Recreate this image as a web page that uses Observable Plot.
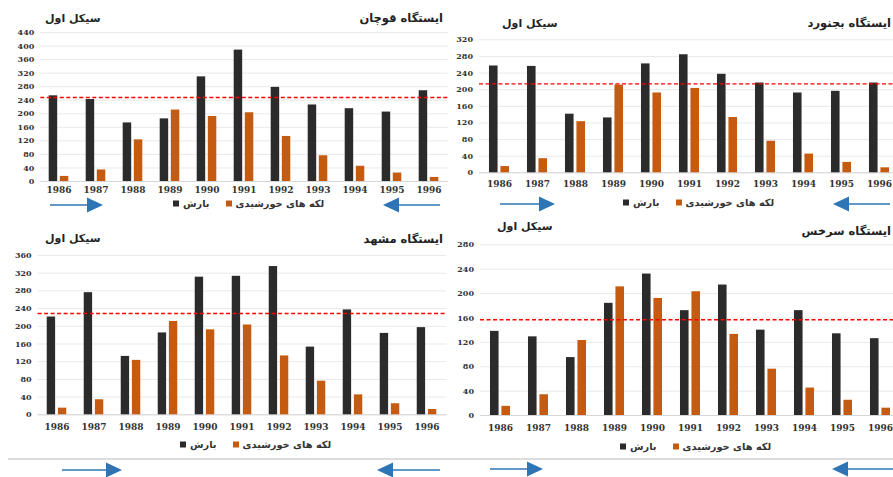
<!DOCTYPE html>
<html><head><meta charset="utf-8">
<script src="https://cdn.jsdelivr.net/npm/d3@7"></script>
<script src="https://cdn.jsdelivr.net/npm/@observablehq/plot@0.6"></script>
<style>
body{margin:0;background:#fff;}
#root{position:relative;width:893px;height:477px;overflow:hidden;background:#fff;}
.pnl{position:absolute;}
.pnl svg{max-width:none !important;}
.t{position:absolute;font-family:"DejaVu Sans",sans-serif;font-weight:bold;font-size:11.5px;color:#222;white-space:nowrap;direction:rtl;transform:translateY(-50%);}
.t.c{font-size:11px;}
.lg{position:absolute;display:flex;align-items:center;font-family:"DejaVu Sans",sans-serif;font-weight:bold;font-size:9.8px;color:#333;white-space:nowrap;transform:translateY(-50%);}
.sq{display:inline-block;width:6px;height:6px;margin-right:4px;}
.sep{position:absolute;left:8px;right:0;top:458px;height:2px;background:#dcdcdc;}
</style></head>
<body><div id="root"></div>
<script>
// ---- data ----
const years = ["1986","1987","1988","1989","1990","1991","1992","1993","1994","1995","1996"];
const sunspots = [15, 34, 123, 211, 192, 203, 133, 76, 45, 25, 12];
const quchan  = [253, 242, 173, 185, 309, 388, 278, 226, 215, 205, 268];
const bojnurd = [257, 256, 141, 132, 262, 284, 237, 216, 192, 196, 216];
const mashhad = [221, 276, 132, 185, 311, 313, 335, 153, 237, 184, 197];
const sarakhs = [138, 129, 95, 184, 232, 172, 214, 140, 172, 134, 126];
const stationTitles = ["ایستگاه قوچان", "ایستگاه بجنورد", "ایستگاه مشهد", "ایستگاه سرخس"];
const stationMeans = [248, 214, 229, 157];
const yMaxes = [440, 320, 360, 280];
const yStep = 40;
const cycleLabel = "سیکل اول";
const seriesNames = ["بارش", "لکه های خورشیدی"];

const darkColor = "#2b2b2b", orangeColor = "#c55a11", arrowColor = "#2e75b6";
const root = document.getElementById("root");

const layouts = [
  {left:0,   top:0,   width:450, height:200, ml:40.3, mr:2.3, mt:32,   mb:19,   xpad:5,
   title:{right:443, y:18}, cycle:{left:45, y:18}, legend:{left:173, y:203},
   arrows:[{x1:50,x2:103,y:205,dir:1},{x1:383,x2:440,y:205,dir:-1}]},
  {left:450, top:0,   width:450, height:195, ml:29,   mr:0.8, mt:39.3, mb:22.7, xpad:7.5,
   title:{right:891, y:23}, cycle:{left:502, y:23}, legend:{left:623, y:202},
   arrows:[{x1:500,x2:555,y:204,dir:1},{x1:833,x2:890,y:204,dir:-1}]},
  {left:0,   top:225, width:450, height:210, ml:37.6, mr:3.6, mt:30,   mb:20.7, xpad:8.5,
   title:{right:443, y:239}, cycle:{left:45, y:238}, legend:{left:180, y:444},
   arrows:[{x1:62,x2:122,y:470,dir:1},{x1:377,x2:440,y:470,dir:-1}]},
  {left:450, top:225, width:450, height:212, ml:30,   mr:-0.2, mt:19.3, mb:22,   xpad:9,
   title:{right:891, y:231}, cycle:{left:497, y:226}, legend:{left:620, y:446},
   arrows:[{x1:490,x2:543,y:469,dir:1},{x1:832,x2:893,y:469,dir:-1}]}
];
const precipSeries = [quchan, bojnurd, mashhad, sarakhs];

layouts.forEach((L, i) => {
  const rows = years.map((y, j) => ({year: y, precip: precipSeries[i][j], sun: sunspots[j]}));
  const ticks = d3.range(0, yMaxes[i] + 1, yStep);
  const bw = (L.width - L.ml - L.mr) / years.length;
  const barW = 0.23 * bw, gap = 0.07 * bw;
  const chart = Plot.plot({
    width: L.width, height: L.height,
    marginLeft: L.ml, marginRight: L.mr, marginTop: L.mt, marginBottom: L.mb,
    style: {background: "transparent", overflow: "visible", maxWidth: "none"},
    x: {type: "band", domain: years, padding: 0, axis: null},
    y: {domain: [0, yMaxes[i]], axis: null},
    marks: [
      Plot.gridY(ticks, {stroke: "#e9e9e9", strokeOpacity: 1}),
      Plot.axisY(ticks, {tickSize: 0, tickPadding: 6.5, fontSize: 8, fontWeight: "bold",
        fontFamily: "DejaVu Serif", fill: "#333", label: null}),
      Plot.ruleY([0], {stroke: "#d6d6d6"}),
      Plot.barY(rows, {x: "year", y: "precip", fill: darkColor,
        insetLeft: bw / 2 - gap / 2 - barW, insetRight: bw / 2 + gap / 2}),
      Plot.barY(rows, {x: "year", y: "sun", fill: orangeColor,
        insetLeft: bw / 2 + gap / 2, insetRight: bw / 2 - gap / 2 - barW}),
      Plot.ruleY([stationMeans[i]], {stroke: "#ff0000", strokeWidth: 1.4, strokeDasharray: "4,2.5"}),
      Plot.axisX({tickSize: 0, tickPadding: L.xpad, fontSize: 9, fontWeight: "bold",
        fontFamily: "DejaVu Serif", fill: "#333", label: null})
    ]
  });
  const wrap = document.createElement("div");
  wrap.className = "pnl";
  wrap.style.left = L.left + "px"; wrap.style.top = L.top + "px";
  wrap.style.width = L.width + "px"; wrap.style.height = L.height + "px";
  wrap.appendChild(chart);
  root.appendChild(wrap);

  const title = document.createElement("div");
  title.className = "t"; title.textContent = stationTitles[i];
  title.style.right = (893 - L.title.right) + "px"; title.style.top = L.title.y + "px";
  root.appendChild(title);

  const cyc = document.createElement("div");
  cyc.className = "t c"; cyc.textContent = cycleLabel;
  cyc.style.left = L.cycle.left + "px"; cyc.style.top = L.cycle.y + "px";
  root.appendChild(cyc);

  const lg = document.createElement("div");
  lg.className = "lg";
  lg.style.left = L.legend.left + "px"; lg.style.top = L.legend.y + "px";
  lg.innerHTML =
    `<span class="sq" style="background:${darkColor}"></span><span dir="rtl">${seriesNames[0]}</span>` +
    `<span class="sq" style="background:${orangeColor};margin-left:16px"></span><span dir="rtl">${seriesNames[1]}</span>`;
  root.appendChild(lg);
});

// separator line under the lower panels
const sep = document.createElement("div");
sep.className = "sep";
root.appendChild(sep);

// decorative arrows
const svg = d3.select(root).append("svg")
  .attr("width", 893).attr("height", 477)
  .style("position", "absolute").style("left", 0).style("top", 0).style("pointer-events", "none");
layouts.forEach(L => {
  L.arrows.forEach(a => {
    const head = 16, hh = 7.5;
    const tip = a.dir > 0 ? a.x2 : a.x1;
    const tail = a.dir > 0 ? a.x1 : a.x2;
    const base = tip - a.dir * head;
    svg.append("line").attr("x1", tail).attr("x2", base).attr("y1", a.y).attr("y2", a.y)
      .attr("stroke", arrowColor).attr("stroke-width", 1.6);
    svg.append("path").attr("d", `M${tip},${a.y}L${base},${a.y - hh}L${base},${a.y + hh}Z`)
      .attr("fill", arrowColor);
  });
});
</script>
</body></html>
